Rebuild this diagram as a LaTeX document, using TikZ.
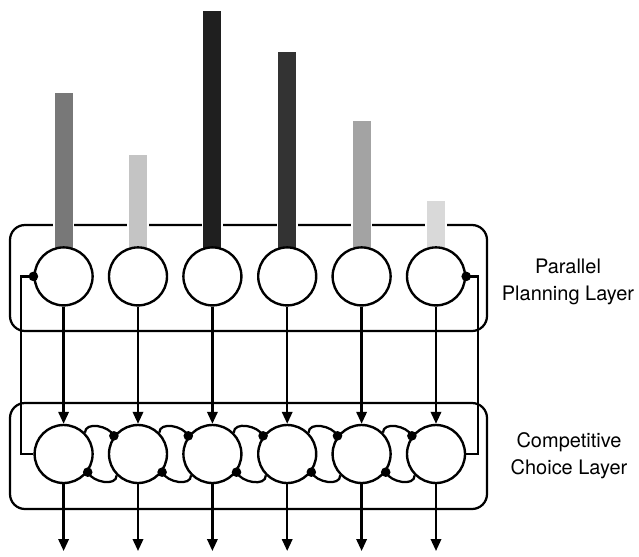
\documentclass[tikz,border=0pt]{standalone}
\usepackage{fontspec}
\newfontfamily\layerfont{TeX Gyre Heros}
\usetikzlibrary{arrows.meta}
\tikzset{
  unit/.style={circle,draw=black,fill=white,line width=1.7pt,minimum size=1.45cm,inner sep=0pt},
  layer/.style={draw=black,line width=1.6pt,rounded corners=0.375cm},
  wire/.style={line width=1.6pt},
  feed/.style={line width=1.6pt,-{Triangle[length=0.3cm,width=0.26cm]}},
  knob/.style={fill=black},
  bar/.style={draw=white,line width=1.2pt},
  caption/.style={align=center,font=\layerfont\fontsize{14.2}{19.2}\selectfont}
}

\begin{document}
\begin{tikzpicture}
\useasboundingbox (0,0) rectangle (15.975,13.9);
% layer boxes
\draw[layer] (0.25,5.625) rectangle (12.175,8.275);
\draw[layer] (0.25,1.175) rectangle (12.175,3.825);

% input bars
\draw[bar,fill=black!53] (1.344,7.2) rectangle (1.836,11.6);
\draw[bar,fill=black!23] (3.204,7.2) rectangle (3.696,10.05);
\draw[bar,fill=black!88] (5.064,7.2) rectangle (5.556,13.65);
\draw[bar,fill=black!80] (6.934,7.2) rectangle (7.426,12.62);
\draw[bar,fill=black!36] (8.794,7.2) rectangle (9.286,10.9);
\draw[bar,fill=black!15] (10.654,7.2) rectangle (11.146,8.9);

% planning units
\node[unit] (p1) at (1.59,6.99) {};
\node[unit] (p2) at (3.45,6.99) {};
\node[unit] (p3) at (5.31,6.99) {};
\node[unit] (p4) at (7.18,6.99) {};
\node[unit] (p5) at (9.04,6.99) {};
\node[unit] (p6) at (10.9,6.99) {};

% choice units
\node[unit] (c1) at (1.59,2.55) {};
\node[unit] (c2) at (3.45,2.55) {};
\node[unit] (c3) at (5.31,2.55) {};
\node[unit] (c4) at (7.18,2.55) {};
\node[unit] (c5) at (9.04,2.55) {};
\node[unit] (c6) at (10.9,2.55) {};

\node[caption] (planlbl) at (14.2,6.86) {Parallel\\Planning Layer};
\node[caption] (choicelbl) at (14.225,2.51) {Competitive\\Choice Layer};

% planning -> choice
\draw[feed] (p1.south) -- (c1.north);
\draw[feed] (p2.south) -- (c2.north);
\draw[feed] (p3.south) -- (c3.north);
\draw[feed] (p4.south) -- (c4.north);
\draw[feed] (p5.south) -- (c5.north);
\draw[feed] (p6.south) -- (c6.north);

% outputs
\coordinate (o1) at (1.59,0.125);
\coordinate (o2) at (3.45,0.125);
\coordinate (o3) at (5.31,0.125);
\coordinate (o4) at (7.18,0.125);
\coordinate (o5) at (9.04,0.125);
\coordinate (o6) at (10.9,0.125);
\draw[feed] (c1.south) -- (o1);
\draw[feed] (c2.south) -- (o2);
\draw[feed] (c3.south) -- (o3);
\draw[feed] (c4.south) -- (o4);
\draw[feed] (c5.south) -- (o5);
\draw[feed] (c6.south) -- (o6);

% feedback to planning layer
\coordinate (fbl1) at (0.525,2.55);
\coordinate (fbl2) at (0.525,6.99);
\coordinate (fbr1) at (11.95,2.55);
\coordinate (fbr2) at (11.95,6.99);
\draw[wire] (c1.west) -- (fbl1) -- (fbl2) -- (p1.west);
\draw[wire] (c6.east) -- (fbr1) -- (fbr2) -- (p6.east);
\fill[knob] (p1.west) circle (0.12);
\fill[knob] (p6.east) circle (0.12);

% lateral inhibition
\draw[wire] (c1.45) to[out=90,in=115] (c2.143);
\draw[wire] (c2.45) to[out=90,in=115] (c3.143);
\draw[wire] (c3.45) to[out=90,in=115] (c4.143);
\draw[wire] (c4.45) to[out=90,in=115] (c5.143);
\draw[wire] (c5.45) to[out=90,in=115] (c6.143);
\draw[wire] (c2.225) to[out=270,in=295] (c1.-37);
\draw[wire] (c3.225) to[out=270,in=295] (c2.-37);
\draw[wire] (c4.225) to[out=270,in=295] (c3.-37);
\draw[wire] (c5.225) to[out=270,in=295] (c4.-37);
\draw[wire] (c6.225) to[out=270,in=295] (c5.-37);
\fill[knob] (c2.143) circle (0.12);
\fill[knob] (c3.143) circle (0.12);
\fill[knob] (c4.143) circle (0.12);
\fill[knob] (c5.143) circle (0.12);
\fill[knob] (c6.143) circle (0.12);
\fill[knob] (c1.-37) circle (0.12);
\fill[knob] (c2.-37) circle (0.12);
\fill[knob] (c3.-37) circle (0.12);
\fill[knob] (c4.-37) circle (0.12);
\fill[knob] (c5.-37) circle (0.12);

\end{tikzpicture}
\end{document}
